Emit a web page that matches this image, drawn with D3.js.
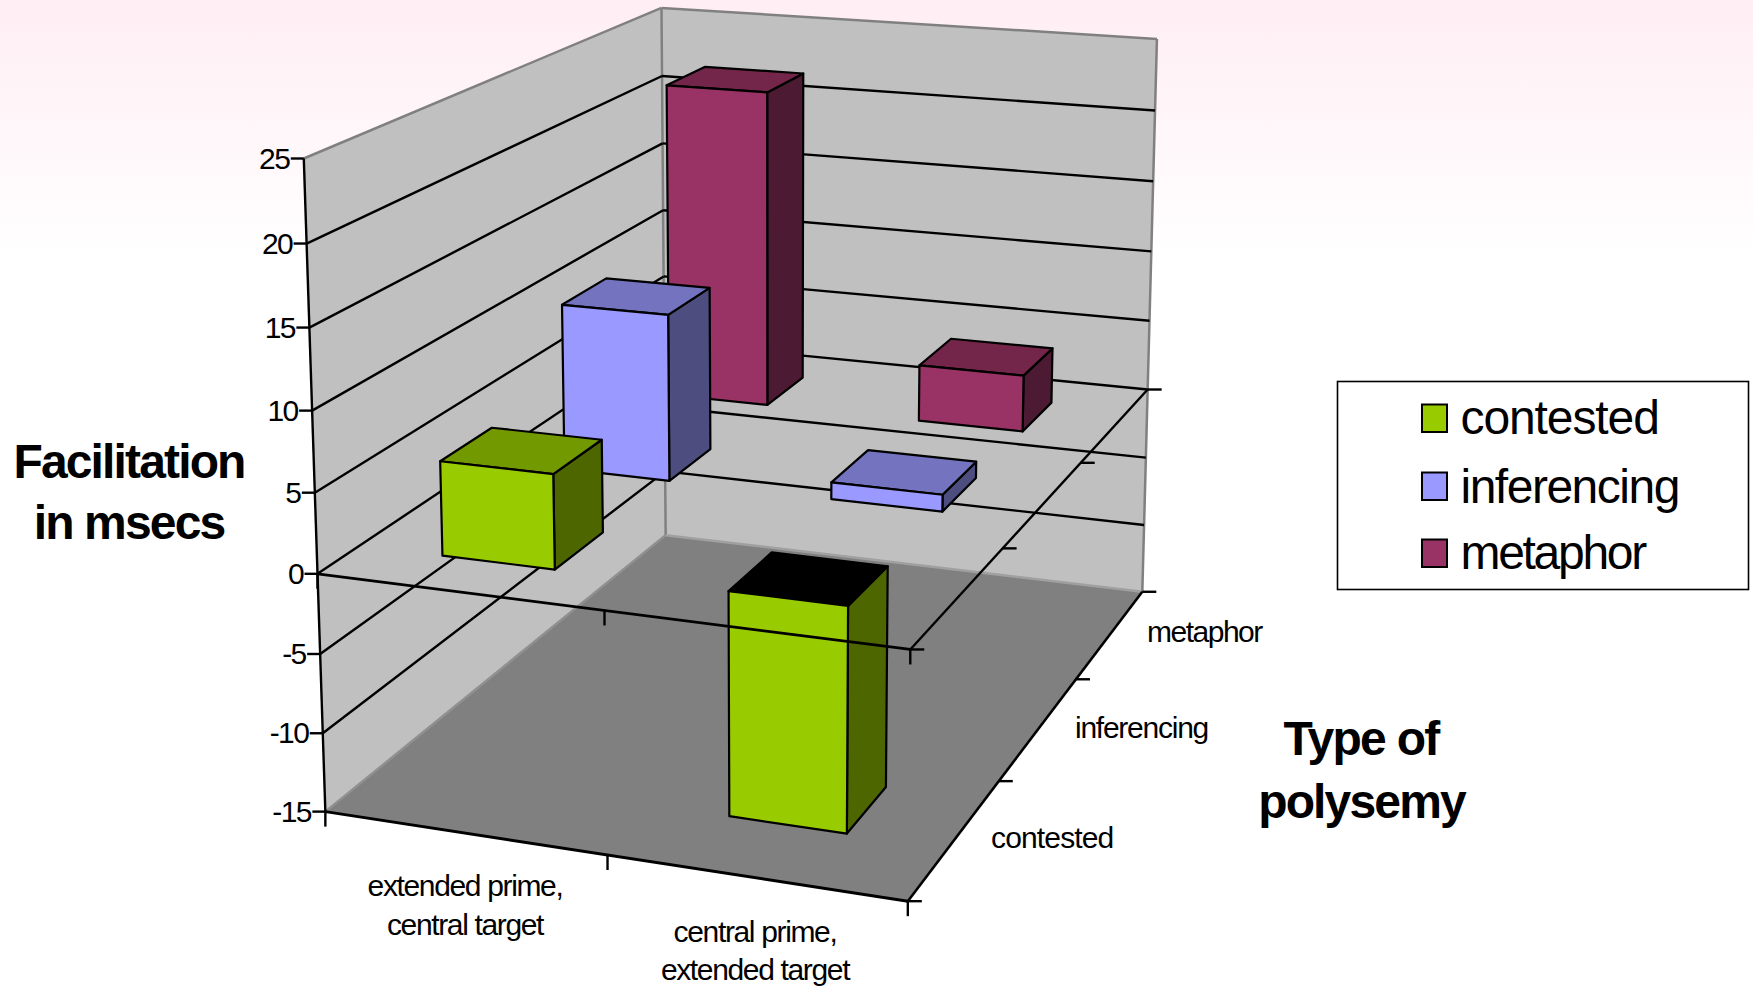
<!DOCTYPE html>
<html><head><meta charset="utf-8">
<script src="https://cdnjs.cloudflare.com/ajax/libs/d3/7.8.5/d3.min.js"></script>
<style>html,body{margin:0;padding:0;background:#fff}svg{display:block}text{font-family:"Liberation Sans",Arial,sans-serif;fill:#000}</style>
</head><body><svg id="c" width="1753" height="986"></svg>
<script>
// ---- data ----
const categories = ["extended prime,|central target", "central prime,|extended target"];
const seriesNames = ["contested", "inferencing", "metaphor"];
const contested = [5.9, -14];
const inferencing = [11, 1.1];
const metaphor = [22, 3.9];
const yTicks = [-15, -10, -5, 0, 5, 10, 15, 20, 25];
const frontColors = ["#99CC00", "#9999FF", "#993366"];
const sideColors = ["#4D6600", "#4D4D80", "#4D1A33"];
const topColors = ["#739900", "#7373BF", "#732649"];

// ---- camera calibration (u across, value, w depth) -> page pixel ----
const calib = [
 [0,25,0,304,158.2],[0,20,0,306.7,243.6],[0,15,0,309.4,328.2],[0,10,0,311.6,410.7],[0,5,0,314.3,492.9],
 [0,0,0,318.3,573.3],[0,-5,0,320.8,653.3],[0,-10,0,322.7,734.3],[0,-15,0,324.6,811.7],
 [1,0,0,910,649],[1,-15,0,908.2,901],
 [0,25,1,661.7,7.9],[0,20,1,662,76.7],[0,15,1,662.5,143],[0,10,1,663,209.6],[0,5,1,663.5,276.8],[0,-15,1,665.8,534.6],
 [1,25,1,1156.6,37.6],[1,20,1,1154,111],[1,15,1,1154,181.9],[1,10,1,1152.6,250.7],[1,5,1,1150,321.9],[1,0,1,1146.8,390.3],
 [1,-5,1,1145,456.7],[1,-10,1,1144,525],[1,-15,1,1142.8,592]
];
function solve(A,b){const n=b.length;const M=A.map((r,i)=>[...r,b[i]]);
 for(let i=0;i<n;i++){let p=i;for(let k=i+1;k<n;k++)if(Math.abs(M[k][i])>Math.abs(M[p][i]))p=k;[M[i],M[p]]=[M[p],M[i]];
  for(let k=0;k<n;k++){if(k===i)continue;const f=M[k][i]/M[i][i];for(let j=i;j<=n;j++)M[k][j]-=f*M[i][j];}}
 return M.map((r,i)=>r[n]/r[i]);}
const yNorm = d3.scaleLinear().domain([-15,25]).range([0,1]);
const P=(()=>{const R=[],B=[];calib.forEach(([u,val,w,x,y])=>{const v=yNorm(val);
  R.push([u,v,w,1,0,0,0,0,-x*u,-x*v,-x*w]);B.push(x);
  R.push([0,0,0,0,u,v,w,1,-y*u,-y*v,-y*w]);B.push(y);});
 const N=Array.from({length:11},(_,i)=>Array.from({length:11},(_,j)=>d3.sum(R,r=>r[i]*r[j])));
 const c=Array.from({length:11},(_,i)=>d3.sum(R,(r,k)=>r[i]*B[k]));
 return solve(N,c);})();
function proj(u,val,w){const v=yNorm(val);const d=P[8]*u+P[9]*v+P[10]*w+1;
 return [(P[0]*u+P[1]*v+P[2]*w+P[3])/d,(P[4]*u+P[5]*v+P[6]*w+P[7])/d];}
const poly=a=>a.map(p=>p.join(",")).join(" ");

const uScale=d3.scaleBand().domain(categories).range([0,1]).paddingInner(0.6).paddingOuter(0.3);
const wScale=d3.scaleBand().domain(seriesNames).range([0,1]).paddingInner(0.6).paddingOuter(0.3);

const svg=d3.select("#c");
const defs=svg.append("defs");
const g=defs.append("linearGradient").attr("id","bg").attr("x1",0).attr("x2",0).attr("y1",0).attr("y2",1);
g.append("stop").attr("offset",0).attr("stop-color","#FFEEF4");
g.append("stop").attr("offset",1).attr("stop-color","#FFFFFF");
svg.append("rect").attr("width",1753).attr("height",986).attr("fill","#fff");
svg.append("rect").attr("width",1753).attr("height",260).attr("fill","url(#bg)");

const line=(a,b,sw=2.4,col="#000")=>svg.append("line").attr("x1",a[0]).attr("y1",a[1]).attr("x2",b[0]).attr("y2",b[1]).attr("stroke",col).attr("stroke-width",sw);

// walls and floor
svg.append("polygon").attr("points",poly([proj(0,-15,0),proj(0,25,0),proj(0,25,1),proj(0,-15,1)])).attr("fill","#C0C0C0");
svg.append("polygon").attr("points",poly([proj(0,-15,1),proj(0,25,1),proj(1,25,1),proj(1,-15,1)])).attr("fill","#C0C0C0");
svg.append("polygon").attr("points",poly([proj(0,-15,0),proj(1,-15,0),proj(1,-15,1),proj(0,-15,1)])).attr("fill","#808080");
line(proj(0,25,0),proj(0,25,1),2.5,"#808080");
line(proj(0,25,1),proj(1,25,1),2.5,"#808080");
line(proj(0,25,1),proj(0,-15,1),2.5,"#808080");
line(proj(1,25,1),proj(1,-15,1),2.5,"#808080");
line(proj(0,-15,0),proj(0,-15,1),2.5,"#909090");
line(proj(0,-15,1),proj(1,-15,1),2.5,"#A0A0A0");

// gridlines
yTicks.filter(t=>t>-15&&t<25).forEach(t=>{
  line(proj(0,t,0),proj(0,t,1));
  line(proj(0,t,1),proj(1,t,1));
});

// bars, back to front
const valuesBySeries=[contested,inferencing,metaphor];
const bars=[];
seriesNames.forEach((s,si)=>categories.forEach((c,ci)=>bars.push({s,si,c,ci,val:valuesBySeries[si][ci]})));
bars.sort((a,b)=>b.si-a.si||a.ci-b.ci);
bars.forEach(b=>{
  const u0=uScale(b.c),u1=u0+uScale.bandwidth(),w0=wScale(b.s),w1=w0+wScale.bandwidth();
  const hi=Math.max(b.val,0),lo=Math.min(b.val,0);
  const gb=svg.append("g").attr("stroke","#000").attr("stroke-width",2.2).attr("stroke-linejoin","round");
  gb.append("polygon").attr("points",poly([proj(u1,lo,w0),proj(u1,hi,w0),proj(u1,hi,w1),proj(u1,lo,w1)])).attr("fill",sideColors[b.si]);
  gb.append("polygon").attr("points",poly([proj(u0,hi,w0),proj(u1,hi,w0),proj(u1,hi,w1),proj(u0,hi,w1)])).attr("fill",b.val<0?"#000":topColors[b.si]);
  gb.append("polygon").attr("points",poly([proj(u0,lo,w0),proj(u1,lo,w0),proj(u1,hi,w0),proj(u0,hi,w0)])).attr("fill",frontColors[b.si]);
});

// axes
line(proj(0,25,0),proj(0,-15,0));
line(proj(0,0,0),proj(1,0,0),2.8);
line(proj(1,0,0),proj(1,0,1),2.4);
line(proj(0,-15,0),proj(1,-15,0),3);
line(proj(1,-15,0),proj(1,-15,1),2.6);
const tickLen=13;
yTicks.forEach(t=>{const p=proj(0,t,0);line([p[0]-tickLen,p[1]],p);
  svg.append("text").attr("x",p[0]-tickLen-1.5).attr("y",p[1]+10).attr("text-anchor","end")
   .attr("font-size",30).attr("letter-spacing",-1.6).text(t);});
[0,0.5,1].forEach(u=>{let p=proj(u,-15,0);line(p,[p[0],p[1]+15]);p=proj(u,0,0);line(p,[p[0],p[1]+15]);});
[0,1/3,2/3,1].forEach(w=>{let p=proj(1,-15,w);line(p,[p[0]+14,p[1]]);p=proj(1,0,w);line(p,[p[0]+14,p[1]]);});

// labels
const lab=(x,y,s,fs,ls,anchor="start",bold=false)=>svg.append("text").attr("x",x).attr("y",y).attr("font-size",fs).attr("letter-spacing",ls)
  .attr("text-anchor",anchor).attr("font-weight",bold?"bold":"normal").text(s);
const catPos=[[465,895.7,935],[755,941.7,980]];
categories.forEach((c,i)=>{const [a,b]=c.split("|");lab(catPos[i][0],catPos[i][1],a,30,-1.35,"middle");lab(catPos[i][0],catPos[i][2],b,30,-1.35,"middle");});
const serPos=[[991,847.7],[1075,737.5],[1147,642]], serLs=[-0.85,-1.25,-1.5];
seriesNames.forEach((s,i)=>lab(serPos[i][0],serPos[i][1],s,30,serLs[i]));
lab(129,477.5,"Facilitation",48,-1.85,"middle",true);
lab(129,539.3,"in msecs",48,-1.85,"middle",true);
lab(1361,755,"Type of",48,-1.7,"middle",true);
lab(1361.5,817.5,"polysemy",48,-1.85,"middle",true);

// legend
svg.append("rect").attr("x",1337.5).attr("y",381.5).attr("width",411).attr("height",208).attr("fill","#fff").attr("stroke","#000").attr("stroke-width",1.6);
const legY=[404.5,472.5,539.5], legT=[434,502.7,569], legLs=[-1.1,-1.5,-2.3];
seriesNames.forEach((s,i)=>{
  svg.append("rect").attr("x",1422).attr("y",legY[i]).attr("width",25).attr("height",27.5).attr("fill",frontColors[i]).attr("stroke","#000").attr("stroke-width",2);
  lab(1460.5,legT[i],s,48,legLs[i]);
});
</script></body></html>
